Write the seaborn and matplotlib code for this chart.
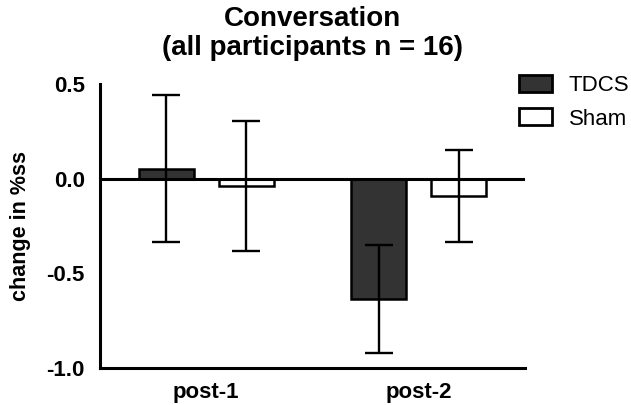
import matplotlib
matplotlib.use("Agg")
import matplotlib.pyplot as plt
import seaborn as sns
import pandas as pd
import numpy as np

# Data
timepoints = ["post-1", "post-2"]
groups = ["TDCS", "Sham"]
tdcs_mean = [0.055, -0.636]
sham_mean = [-0.037, -0.089]
tdcs_err = [0.39, 0.285]
sham_err = [0.342, 0.244]
yticks = [-1.0, -0.5, 0.0, 0.5]

sns.set_style("white")
plt.rcParams["font.family"] = ["Liberation Sans", "DejaVu Sans"]
plt.rcParams["text.color"] = "black"
plt.rcParams["axes.labelcolor"] = "black"
plt.rcParams["xtick.color"] = "black"
plt.rcParams["ytick.color"] = "black"

df = pd.DataFrame({
    "time": timepoints * 2,
    "group": ["TDCS"] * 2 + ["Sham"] * 2,
    "value": tdcs_mean + sham_mean,
})
errs = {("TDCS", t): e for t, e in zip(timepoints, tdcs_err)}
errs.update({("Sham", t): e for t, e in zip(timepoints, sham_err)})

fig = plt.figure(figsize=(6.31, 4.05), dpi=100)
ax = fig.add_axes([0.1585, 0.0914, 0.6735, 0.7000])

sns.barplot(data=df, x="time", y="value", hue="group", order=timepoints,
            hue_order=groups, palette={"TDCS": "#333333", "Sham": "#ffffff"},
            edgecolor="black", linewidth=1.8, width=0.75, gap=0.31,
            errorbar=None, ax=ax, zorder=2)

# error bars at bar centres
for cont, g in zip(ax.containers, groups):
    for patch, t in zip(cont.patches, timepoints):
        xc = patch.get_x() + patch.get_width() / 2
        val = df[(df.group == g) & (df.time == t)]["value"].iloc[0]
        ax.errorbar(xc, val, yerr=errs[(g, t)], fmt="none", ecolor="black",
                    elinewidth=1.7, capsize=10.4, capthick=1.7, zorder=4)

ax.axhline(0, color="black", lw=2.2, zorder=3)
ax.set_xlim(-0.5, 1.5)
ax.set_ylim(-1.0, 0.5)
ax.set_yticks(yticks)
ax.set_yticklabels([f"{v:.1f}" for v in yticks])
ax.set_xlabel("")
ax.set_ylabel("change in %ss", fontsize=15.5, fontweight="bold", labelpad=11,
              color="black")
ax.set_title("Conversation\n(all participants n = 16)", fontsize=20,
             fontweight="bold", pad=21, linespacing=1.15, color="black")

for s in ["top", "right"]:
    ax.spines[s].set_visible(False)
for s in ["left", "bottom"]:
    ax.spines[s].set_linewidth(2.2)
    ax.spines[s].set_color("black")
ax.tick_params(axis="both", direction="out", width=2.2, color="black",
               labelcolor="black", labelsize=16, pad=4)
ax.tick_params(axis="y", length=7)
ax.tick_params(axis="x", length=6)
for lab in ax.get_xticklabels() + ax.get_yticklabels():
    lab.set_fontweight("bold")

leg = ax.legend(loc="upper left", bbox_to_anchor=(519 / 631, 1 - 75 / 405),
                bbox_transform=fig.transFigure, frameon=False, fontsize=16,
                handlelength=1.48, handleheight=0.8, labelspacing=0.55,
                handletextpad=0.75, borderpad=0, borderaxespad=0)
for h in leg.legend_handles:
    h.set_edgecolor("black")
    h.set_linewidth(2)
for t in leg.get_texts():
    t.set_color("black")

fig.savefig("out.png", dpi=100)
